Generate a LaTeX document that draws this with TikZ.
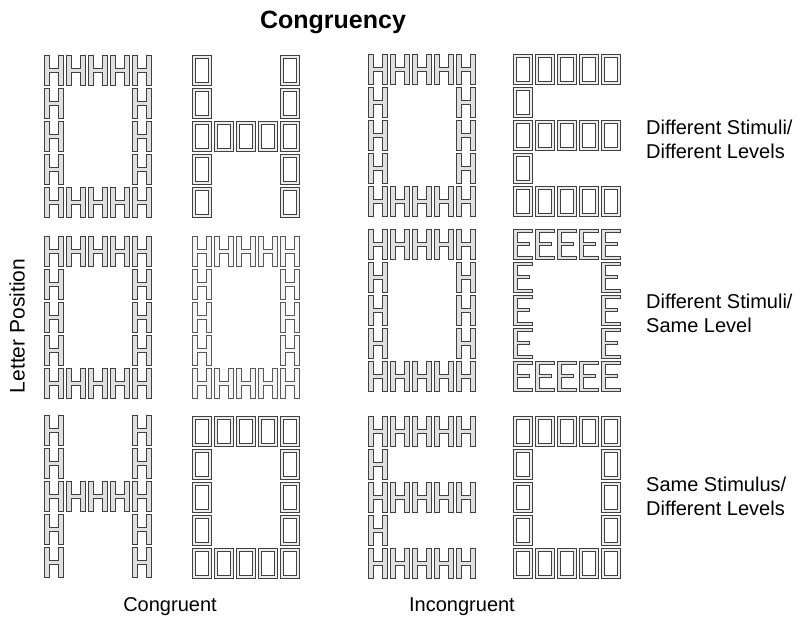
\documentclass[tikz,border=0pt]{standalone}
\usepackage{fontspec}
\setmainfont{Liberation Sans}
\begin{document}
\begin{tikzpicture}[x=1pt,y=-1pt,
  glyph/.style={fill=gray!24, draw=black!75, line width=0.6pt, even odd rule},
  glyphw/.style={fill=gray!8, draw=black!65, line width=0.5pt, even odd rule},
  glyphb/.style={fill=gray!14, draw=black!75, line width=0.6pt, even odd rule},
  lbl/.style={font=\fontsize{20}{24}\selectfont, inner sep=0pt, align=left},
  pics/gH/.style={code={\path[#1] (0,0) -- (5,0) -- (5,13) -- (14,13) -- (14,0) -- (19,0) -- (19,30) -- (14,30) -- (14,17) -- (5,17) -- (5,30) -- (0,30) -- cycle;}},
  pics/gH/.default=glyph,
  pics/gO/.style={code={\path[glyphb] (0,0) rectangle (19,30) (3.2,3.2) rectangle (15.8,26.8);}},
  pics/gE/.style={code={\path[glyph] (0,0) -- (19,0) -- (19,3.2) -- (4,3.2) -- (4,13.4) -- (16,13.4) -- (16,16.6) -- (4,16.6) -- (4,26.8) -- (19,26.8) -- (19,30) -- (0,30) -- cycle;}}
]
\useasboundingbox (0,0) rectangle (803,621);
\def\patO{1/1,2/1,3/1,4/1,5/1,1/2,5/2,1/3,5/3,1/4,5/4,1/5,2/5,3/5,4/5,5/5}
\def\patH{1/1,5/1,1/2,5/2,1/3,2/3,3/3,4/3,5/3,1/4,5/4,1/5,5/5}
\def\patE{1/1,2/1,3/1,4/1,5/1,1/2,1/3,2/3,3/3,4/3,5/3,1/4,1/5,2/5,3/5,4/5,5/5}
\newcommand\navpanel[4]{\foreach \c/\r in #4 {\pic at ({#1+(\c-1)*22},{#2+(\r-1)*33}) {#3};}}
% row 1
\navpanel{44}{55}{gH}{\patO}
\navpanel{192}{55}{gO}{\patH}
\navpanel{368}{54}{gH}{\patO}
\navpanel{513}{54}{gO}{\patE}
% row 2
\navpanel{44}{236}{gH}{\patO}
\navpanel{192}{236}{gH=glyphw}{\patO}
\navpanel{368}{229}{gH}{\patO}
\navpanel{513}{229}{gE}{\patO}
% row 3
\navpanel{44}{415}{gH}{\patH}
\navpanel{192}{416}{gO}{\patO}
\navpanel{368}{416}{gH}{\patE}
\navpanel{513}{416}{gO}{\patO}
% texts
\node[font=\fontsize{25}{30}\selectfont\bfseries, inner sep=0pt] (title) at (333,22) {Congruency};
\node[lbl] (cong) at (170,607) {Congruent};
\node[lbl] (incong) at (462,607) {Incongruent};
\node[lbl, font=\fontsize{21}{25}\selectfont, rotate=90] (lp) at (17,326) {Letter Position};
\node[lbl, anchor=west] (r1) at (646,139) {Different Stimuli/\\Different Levels};
\node[lbl, anchor=west] (r2) at (646,313) {Different Stimuli/\\Same Level};
\node[lbl, anchor=west] (r3) at (646,496) {Same Stimulus/\\Different Levels};
\end{tikzpicture}
\end{document}
